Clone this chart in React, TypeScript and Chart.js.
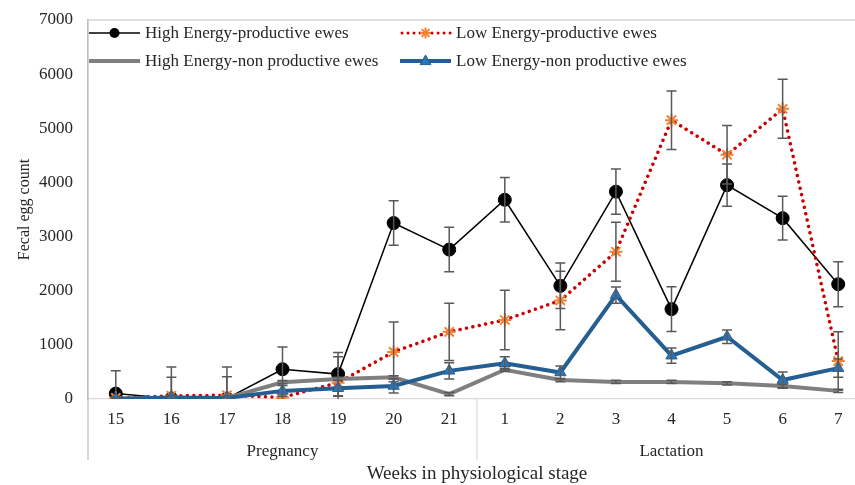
import React, { useEffect, useRef } from 'react';
import { Chart, registerables } from 'chart.js';

Chart.register(...registerables);

const weeks = ['15', '16', '17', '18', '19', '20', '21', '1', '2', '3', '4', '5', '6', '7'];
const stages = ['Pregnancy', 'Lactation'];
const seriesNames = [
  'High Energy-productive ewes',
  'Low Energy-productive ewes',
  'High Energy-non productive ewes',
  'Low Energy-non productive ewes',
];

const heProductive = [100, 10, 10, 550, 460, 3250, 2760, 3680, 2090, 3830, 1660, 3950, 3340, 2120];
const heProductiveErr = [420, 580, 580, 410, 400, 410, 410, 410, 420, 420, 415, 390, 405, 415];

const leProductive = [20, 60, 70, 30, 300, 870, 1240, 1460, 1820, 2720, 5150, 4510, 5360, 700];
const leProductiveErr = [20, 340, 340, 300, 480, 550, 530, 550, 540, 545, 540, 540, 545, 540];

const heNonProductive = [10, 20, 20, 310, 370, 400, 90, 540, 350, 315, 315, 290, 240, 150];
const heNonProductiveErr = [30, 30, 30, 30, 30, 30, 30, 30, 30, 30, 30, 30, 30, 30];

const leNonProductive = [0, 30, 20, 150, 200, 240, 520, 660, 490, 1920, 800, 1150, 350, 570];
const leNonProductiveErr = [20, 30, 30, 100, 150, 130, 150, 120, 120, 150, 140, 125, 150, 170];

const yTicks = [0, 1000, 2000, 3000, 4000, 5000, 6000, 7000];

const SERIF = "'Liberation Serif', 'Times New Roman', serif";
const TEXT = '#262626';
const BLACK = '#000000';
const RED = '#cc0000';
const ORANGE = '#f58232';
const GRAY = '#7f7f7f';
const BLUE_LINE = '#255e91';
const BLUE_FILL = '#2e75b6';
const ERR = '#595959';

const values = [heProductive, leProductive, heNonProductive, leNonProductive];
const errors = [heProductiveErr, leProductiveErr, heNonProductiveErr, leNonProductiveErr];

function drawStar(ctx: CanvasRenderingContext2D, x: number, y: number, r: number) {
  ctx.beginPath();
  for (let k = 0; k < 4; k++) {
    const a = (Math.PI / 4) * k;
    ctx.moveTo(x + Math.cos(a) * r, y + Math.sin(a) * r);
    ctx.lineTo(x - Math.cos(a) * r, y - Math.sin(a) * r);
  }
  ctx.stroke();
}

function drawTriangle(ctx: CanvasRenderingContext2D, x: number, y: number, r: number) {
  ctx.beginPath();
  ctx.moveTo(x, y - r);
  ctx.lineTo(x + r * 0.9, y + r * 0.6);
  ctx.lineTo(x - r * 0.9, y + r * 0.6);
  ctx.closePath();
  ctx.fill();
  ctx.stroke();
}

export default function App() {
  const ref = useRef<HTMLCanvasElement>(null);

  useEffect(() => {
    const canvas = ref.current;
    if (!canvas) return;

    const errorBars = {
      id: 'errorBars',
      afterDatasetDraw(chart: any, args: any) {
        const i = args.index;
        const meta = args.meta;
        const data = values[i];
        const err = errors[i];
        const ys = chart.scales.y;
        const area = chart.chartArea;
        const ctx = chart.ctx as CanvasRenderingContext2D;
        ctx.save();
        ctx.beginPath();
        ctx.rect(area.left, area.top, area.right - area.left, area.bottom - area.top);
        ctx.clip();
        ctx.strokeStyle = ERR;
        ctx.lineWidth = 1.5;
        for (let j = 0; j < data.length; j++) {
          const pt = meta.data[j];
          if (!pt) continue;
          const x = pt.x;
          const top = ys.getPixelForValue(data[j] + err[j]);
          const bot = ys.getPixelForValue(data[j] - err[j]);
          ctx.beginPath();
          ctx.moveTo(x, top);
          ctx.lineTo(x, bot);
          ctx.moveTo(x - 5, top);
          ctx.lineTo(x + 5, top);
          ctx.moveTo(x - 5, bot);
          ctx.lineTo(x + 5, bot);
          ctx.stroke();
        }
        ctx.restore();
      },
    };

    const frame = {
      id: 'frame',
      afterDraw(chart: any) {
        const ctx = chart.ctx as CanvasRenderingContext2D;
        const area = chart.chartArea;
        const xs = chart.scales.x;
        const x2 = chart.scales.x2;
        const lineEnd = x2.top + 31;
        ctx.save();
        ctx.strokeStyle = '#bfbfbf';
        ctx.lineWidth = 1.2;
        ctx.beginPath();
        ctx.moveTo(area.left, area.top);
        ctx.lineTo(chart.width, area.top);
        ctx.moveTo(area.left, area.top);
        ctx.lineTo(area.left, lineEnd);
        ctx.stroke();
        ctx.strokeStyle = '#d9d9d9';
        ctx.beginPath();
        const mid = (xs.getPixelForValue(6) + xs.getPixelForValue(7)) / 2;
        ctx.moveTo(mid, area.bottom);
        ctx.lineTo(mid, lineEnd);
        ctx.stroke();

        // legend
        const cols = [area.left + 1, area.left + 312];
        const rows = [area.top + 13, area.top + 41];
        const pos = [
          [cols[0], rows[0]],
          [cols[1], rows[0]],
          [cols[0], rows[1]],
          [cols[1], rows[1]],
        ];
        const sample = 51;
        ctx.font = `17px ${SERIF}`;
        ctx.textBaseline = 'middle';
        ctx.textAlign = 'left';
        for (let k = 0; k < 4; k++) {
          const [lx, ly] = pos[k];
          const cx = lx + sample / 2;
          ctx.save();
          if (k === 0) {
            ctx.strokeStyle = BLACK;
            ctx.lineWidth = 1.5;
            ctx.beginPath();
            ctx.moveTo(lx, ly);
            ctx.lineTo(lx + sample, ly);
            ctx.stroke();
            ctx.fillStyle = BLACK;
            ctx.beginPath();
            ctx.arc(cx, ly, 5, 0, Math.PI * 2);
            ctx.fill();
          } else if (k === 1) {
            ctx.strokeStyle = RED;
            ctx.lineWidth = 3;
            ctx.lineCap = 'round';
            ctx.setLineDash([0.01, 6]);
            ctx.beginPath();
            ctx.moveTo(lx + 2, ly);
            ctx.lineTo(lx + sample, ly);
            ctx.stroke();
            ctx.setLineDash([]);
            ctx.strokeStyle = ORANGE;
            ctx.lineWidth = 2;
            ctx.lineCap = 'butt';
            drawStar(ctx, cx, ly, 5.5);
          } else if (k === 2) {
            ctx.strokeStyle = GRAY;
            ctx.lineWidth = 4;
            ctx.beginPath();
            ctx.moveTo(lx, ly);
            ctx.lineTo(lx + sample, ly);
            ctx.stroke();
          } else {
            ctx.strokeStyle = BLUE_LINE;
            ctx.lineWidth = 4;
            ctx.beginPath();
            ctx.moveTo(lx, ly);
            ctx.lineTo(lx + sample, ly);
            ctx.stroke();
            ctx.fillStyle = BLUE_FILL;
            ctx.lineWidth = 1;
            drawTriangle(ctx, cx, ly, 6);
          }
          ctx.restore();
          ctx.fillStyle = TEXT;
          ctx.fillText(seriesNames[k], lx + 56, ly + 1);
        }
        ctx.restore();
      },
    };

    const chart = new Chart(canvas, {
      type: 'line',
      data: {
        labels: weeks,
        datasets: [
          {
            label: seriesNames[0],
            data: heProductive,
            borderColor: BLACK,
            borderWidth: 1.5,
            pointStyle: 'circle',
            pointRadius: 6.5,
            pointBackgroundColor: BLACK,
            pointBorderColor: BLACK,
            pointBorderWidth: 1,
            tension: 0,
            order: 4,
          },
          {
            label: seriesNames[1],
            data: leProductive,
            borderColor: RED,
            borderWidth: 3.5,
            borderDash: [0.01, 6.5],
            borderCapStyle: 'round',
            pointStyle: 'star',
            pointRadius: 6.5,
            pointBorderColor: ORANGE,
            pointBackgroundColor: ORANGE,
            pointBorderWidth: 2,
            tension: 0,
            order: 3,
          },
          {
            label: seriesNames[2],
            data: heNonProductive,
            borderColor: GRAY,
            borderWidth: 4,
            pointRadius: 0,
            tension: 0,
            order: 2,
          },
          {
            label: seriesNames[3],
            data: leNonProductive,
            borderColor: BLUE_LINE,
            borderWidth: 4,
            pointStyle: 'triangle',
            pointRadius: 6.5,
            pointBackgroundColor: BLUE_FILL,
            pointBorderColor: BLUE_LINE,
            pointBorderWidth: 1,
            tension: 0,
            order: 1,
          },
        ] as any,
      },
      options: {
        responsive: false,
        animation: false,
        layout: { padding: { top: 20, right: 14, left: 0, bottom: 0 } },
        plugins: {
          legend: { display: false },
          tooltip: { enabled: false },
          title: { display: false },
        },
        scales: {
          x: {
            type: 'category',
            position: 'bottom',
            offset: true,
            grid: { display: false, drawTicks: false },
            border: { display: true, color: '#d9d9d9', width: 1.2 },
            ticks: {
              autoSkip: false,
              maxRotation: 0,
              padding: 10,
              color: TEXT,
              font: { family: SERIF, size: 17 },
            },
            afterFit: (s: any) => {
              s.height = 30;
              s.paddingLeft = 0;
              s.paddingRight = 0;
            },
          },
          x2: {
            type: 'category',
            position: 'bottom',
            labels: stages,
            offset: true,
            grid: { display: false, drawTicks: false },
            border: { display: false },
            ticks: {
              autoSkip: false,
              maxRotation: 0,
              padding: 12,
              color: TEXT,
              font: { family: SERIF, size: 17 },
            },
            title: {
              display: true,
              text: 'Weeks in physiological stage',
              color: TEXT,
              font: { family: SERIF, size: 19 },
              padding: { top: 0, bottom: 0 },
            },
            afterFit: (s: any) => {
              s.height = 56;
              s.paddingLeft = 0;
              s.paddingRight = 0;
            },
          },
          y: {
            min: 0,
            max: 7000,
            afterBuildTicks: (s: any) => {
              s.ticks = yTicks.map((v) => ({ value: v }));
            },
            grid: { display: false, drawTicks: false },
            border: { display: true, color: '#bfbfbf', width: 1.2 },
            ticks: {
              padding: 15,
              color: TEXT,
              font: { family: SERIF, size: 17 },
              callback: (v: any) => String(v),
            },
            title: {
              display: true,
              text: 'Fecal egg count',
              color: TEXT,
              font: { family: SERIF, size: 16 },
              padding: { top: 15, bottom: 0 },
            },
            afterFit: (s: any) => {
              s.width = 88;
              s.paddingTop = 0;
              s.paddingBottom = 0;
            },
          },
        },
      } as any,
      plugins: [errorBars, frame],
    });

    return () => chart.destroy();
  }, []);

  return (
    <div
      style={{
        position: 'fixed',
        left: 0,
        top: 0,
        width: 855,
        height: 485,
        overflow: 'hidden',
        background: '#ffffff',
      }}
    >
      <canvas ref={ref} width={880} height={485} style={{ width: 880, height: 485, display: 'block' }} />
    </div>
  );
}
